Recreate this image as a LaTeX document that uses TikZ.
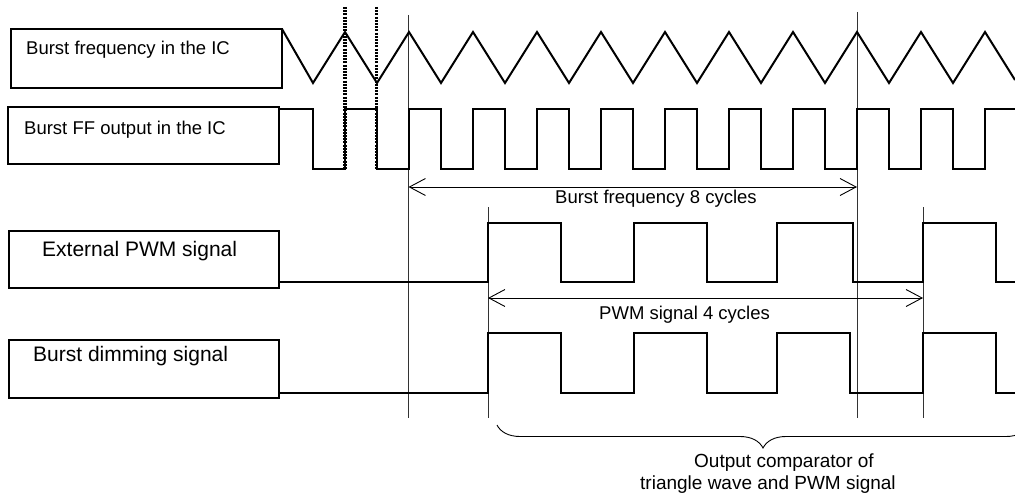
\documentclass[tikz,border=0pt]{standalone}
\usepackage{fontspec}
\setmainfont{Liberation Sans}
\usetikzlibrary{positioning}
\usetikzlibrary{arrows.meta}
\usetikzlibrary{decorations.pathreplacing}

\begin{document}
\begin{tikzpicture}[x=1pt, y=-1pt,
    sigbox/.style={draw, line width=1.6pt, inner sep=0pt, outer sep=0pt, anchor=north west},
    wave/.style={line width=2pt, line join=miter},
    guide/.style={line width=0.9pt, black!80},
    marker/.style={line width=3.2pt, dash pattern=on 2pt off 1.2pt},
    span/.style={line width=0.9pt, {Straight Barb[length=16pt,width=17pt]}-{Straight Barb[length=16pt,width=17pt]}},
    small/.style={font=\fontsize{18.5}{22}\selectfont, inner sep=0pt, anchor=base west},
    big/.style={font=\fontsize{21}{25}\selectfont, inner sep=0pt, anchor=base west}]
    \useasboundingbox (0,0) rectangle (1015,495);

    % label boxes
    \node[sigbox, minimum width=271pt, minimum height=59pt] (box1) at (11,29) {};
    \node[sigbox, minimum width=271pt, minimum height=57pt] (box2) at (8,107) {};
    \node[sigbox, minimum width=270pt, minimum height=57pt] (box3) at (9,231) {};
    \node[sigbox, minimum width=270pt, minimum height=58pt] (box4) at (9,340) {};
    \node[small] (lab1) at (26,55) {Burst frequency in the IC};
    \node[small] (lab2) at (24,134) {Burst FF output in the IC};
    \node[big] (lab3) at (42,256) {External PWM signal};
    \node[big] (lab4) at (33,361) {Burst dimming signal};

    % guide lines
    \draw[guide] (408.5,15) -- (408.5,418);
    \draw[guide] (857,12) -- (857,418);
    \draw[guide] (488,207) -- (488,418);
    \draw[guide] (923,207) -- (923,418);
    \draw[marker] (345,7) -- (345,169);
    \draw[marker] (376.5,7) -- (376.5,169);

    % triangle wave and FF output
    \draw[wave] (box1.north east)
        \foreach \k in {0,...,10} { -- ({313+64*\k},83) -- ({345+64*\k},32) } -- (1015,80);
    \draw[wave] (279,109)
        \foreach \k in {0,...,10} { -- ({313+64*\k},109) -- ({313+64*\k},169)
            -- ({345+64*\k},169) -- ({345+64*\k},109) } -- (1015,109);

    % PWM signals
    \draw[wave] (279,282)
        \foreach \a/\b in {488/561,634/707,777/853,923/996} { -- (\a,282) -- (\a,223) -- (\b,223) -- (\b,282) }
        -- (1015,282);
    \draw[wave] (279,393)
        \foreach \a/\b in {488/561,634/707,777/850,923/996} { -- (\a,393) -- (\a,333) -- (\b,333) -- (\b,393) }
        -- (1015,393);

    % cycle spans
    \coordinate (f8a) at (408.5,187);
    \coordinate (f8b) at (857,187);
    \draw[span] (f8a) -- (f8b);
    \node[small] (f8lab) at (555,203) {Burst frequency 8 cycles};
    \coordinate (p4a) at (488,298);
    \coordinate (p4b) at (923,298);
    \draw[span] (p4a) -- (p4b);
    \node[small] (p4lab) at (599,319) {PWM signal 4 cycles};

    % comparator brace
    \coordinate (brl) at (497,425);
    \coordinate (brr) at (1029,425);
    \draw[line width=0.9pt, decorate, decoration={brace, mirror, amplitude=23pt}] (brl) -- (brr);
    \node[small, font=\fontsize{19}{22}\selectfont] (cmp1) at (694,467) {Output comparator of};
    \node[small, font=\fontsize{19}{22}\selectfont] (cmp2) at (640,489) {triangle wave and PWM signal};
\end{tikzpicture}
\end{document}
